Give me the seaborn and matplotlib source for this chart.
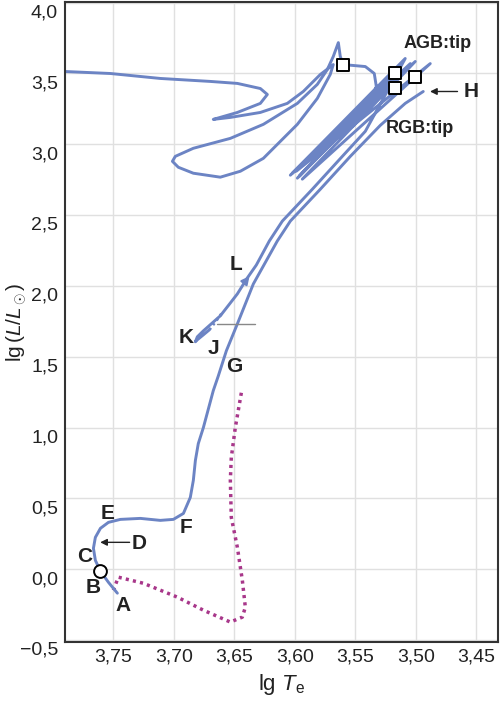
import numpy as np
import pandas as pd
import seaborn as sns
import matplotlib
matplotlib.use("Agg")
import matplotlib.pyplot as plt
from matplotlib.ticker import FuncFormatter, MultipleLocator
from matplotlib.transforms import ScaledTranslation

# main sequence -> subgiant -> red giant branch (A ... RGB tip)
lgTe_rgb = [3.7467, 3.7541, 3.7607, 3.7649, 3.7665, 3.7649, 3.7607, 3.7541, 3.7442, 3.7277,
            3.7112, 3.7004, 3.6921, 3.6864, 3.6839, 3.6822, 3.6798, 3.6756, 3.6674, 3.6632,
            3.6566, 3.6475, 3.6343, 3.6145, 3.6037, 3.5789, 3.5541, 3.5293, 3.5087, 3.4938]
lgL_rgb = [-0.169, -0.092, -0.014, 0.063, 0.148, 0.225, 0.289, 0.331, 0.352, 0.359,
           0.345, 0.352, 0.394, 0.507, 0.627, 0.768, 0.887, 1.000, 1.261, 1.366,
           1.542, 1.732, 2.014, 2.317, 2.458, 2.683, 2.915, 3.134, 3.289, 3.373]

# end of helium flash (dotted) before the horizontal branch
lgTe_flash = [3.6607, 3.6707]
lgL_flash = [1.803, 1.690]

# horizontal branch (K) -> early AGB (L) -> thermal pulses -> AGB tip
lgTe_agb = [3.6707, 3.6756, 3.6806, 3.6822, 3.6806, 3.6756, 3.6682, 3.6616, 3.6533, 3.6475,
            3.6393, 3.6318, 3.6211, 3.6103, 3.5855, 3.5607, 3.5417,
            3.5087, 3.6021, 3.5045, 3.5979, 3.5128, 3.6037, 3.5004, 3.5938, 3.4880,
            3.5988, 3.5169, 3.5963, 3.5376, 3.5326, 3.5343, 3.5417, 3.5599]
lgL_agb = [1.690, 1.655, 1.620, 1.606, 1.641, 1.683, 1.739, 1.789, 1.880, 1.944,
           2.056, 2.148, 2.317, 2.458, 2.683, 2.915, 3.092,
           3.606, 2.796, 3.570, 2.761, 3.542, 2.782, 3.585, 2.754, 3.570,
           2.810, 3.458, 2.775, 3.303, 3.408, 3.500, 3.549, 3.563]

# post-AGB loops leaving the plot to the left
lgTe_post = [3.5599, 3.5624, 3.5640, 3.5682, 3.5731, 3.5814, 3.5979, 3.6260, 3.6533, 3.6839,
             3.6988, 3.7012, 3.6963, 3.6839, 3.6616, 3.6450, 3.6260, 3.5979, 3.5814, 3.5707,
             3.5682, 3.5789, 3.5930, 3.6062, 3.6285, 3.6533, 3.6674, 3.6475, 3.6285, 3.6227,
             3.6285, 3.6475, 3.6698, 3.7112, 3.7525, 3.7897, 3.7980]
lgL_post = [3.563, 3.620, 3.718, 3.620, 3.528, 3.423, 3.289, 3.141, 3.042, 2.972,
            2.915, 2.880, 2.838, 2.796, 2.768, 2.810, 2.901, 3.141, 3.324, 3.493,
            3.563, 3.493, 3.373, 3.289, 3.225, 3.190, 3.176, 3.225, 3.289, 3.352,
            3.394, 3.430, 3.444, 3.465, 3.500, 3.514, 3.514]

# pre-main-sequence (dotted magenta)
lgTe_pms = [3.6442, 3.6492, 3.6525, 3.6533, 3.6525, 3.6475, 3.6434, 3.6409, 3.6434, 3.6533,
            3.6756, 3.6971, 3.7252, 3.7459, 3.7500]
lgL_pms = [1.246, 1.000, 0.789, 0.627, 0.366, 0.155, -0.077, -0.268, -0.338, -0.373,
           -0.289, -0.197, -0.099, -0.056, -0.148]

# markers
sq_Te = [3.5599, 3.5169, 3.5169, 3.5004]
sq_L = [3.563, 3.507, 3.401, 3.472]
zams_Te = [3.7607]
zams_L = [-0.014]

# point labels
lab_text = ["A", "B", "C", "D", "E", "F", "G", "J", "K", "L", "H", "AGB:tip", "RGB:tip"]
lab_Te = [3.7417, 3.7665, 3.7740, 3.7285, 3.7550, 3.6897, 3.6500, 3.6674, 3.6897, 3.6483,
          3.4541, 3.4822, 3.4963]
lab_L = [-0.254, -0.127, 0.092, 0.183, 0.394, 0.296, 1.430, 1.556, 1.634, 2.155,
         3.373, 3.711, 3.113]

blue = "#6c84c4"
magenta = "#a8378a"

sns.set_theme(style="whitegrid")
plt.rcParams["font.family"] = ["Liberation Sans", "DejaVu Sans"]
plt.rcParams["mathtext.fontset"] = "custom"
plt.rcParams["mathtext.rm"] = "Liberation Sans"
plt.rcParams["mathtext.it"] = "Liberation Sans:italic"

fig = plt.figure(figsize=(5.0, 7.04), dpi=100)
ax = fig.add_axes([0.13, 0.088, 0.866, 0.909])

line_kw = dict(sort=False, estimator=None, solid_joinstyle="round", solid_capstyle="round")
sns.lineplot(x=lgTe_pms, y=lgL_pms, ax=ax, color=magenta, lw=2.5,
             linestyle=(0, (0.9, 1.2)), sort=False, estimator=None)
sns.lineplot(x=lgTe_rgb, y=lgL_rgb, ax=ax, color=blue, lw=2.1, **line_kw)
sns.lineplot(x=lgTe_agb, y=lgL_agb, ax=ax, color=blue, lw=2.1, **line_kw)
sns.lineplot(x=lgTe_post, y=lgL_post, ax=ax, color=blue, lw=2.1, **line_kw)
sns.lineplot(x=lgTe_flash, y=lgL_flash, ax=ax, color=blue, lw=2.1,
             linestyle=(0, (0.8, 1.2)), sort=False, estimator=None)

# thin grey marker near J
ax.plot([3.664, 3.6326], [1.732, 1.732], color="#888888", lw=1.0)

sns.scatterplot(x=sq_Te, y=sq_L, ax=ax, marker="s", s=70, color="white",
                edgecolor="black", linewidth=1.4, zorder=5)
sns.scatterplot(x=zams_Te, y=zams_L, ax=ax, marker="o", s=85, color="white",
                edgecolor="black", linewidth=1.4, zorder=5)

for t, xx, yy in zip(lab_text, lab_Te, lab_L):
    fs = 13 if ":" in t else 15
    ax.text(xx, yy, t, ha="center", va="center", fontsize=fs, fontweight="bold",
            color="#222222", zorder=6)

# arrows to D and H
ax.annotate("", xy=(3.7632, 0.19), xytext=(3.7343, 0.19),
            arrowprops=dict(arrowstyle="-|>", color="#222222", lw=1.0, mutation_scale=10))
ax.annotate("", xy=(3.4905, 3.373), xytext=(3.4632, 3.373),
            arrowprops=dict(arrowstyle="-|>", color="#222222", lw=1.0, mutation_scale=10))
# direction arrow at L
ax.annotate("", xy=(3.6360, 2.085), xytext=(3.6420, 2.02),
            arrowprops=dict(arrowstyle="-|>", color=blue, lw=1.5, mutation_scale=12))

ax.set_xlim(3.79, 3.432)
ax.set_ylim(-0.514, 4.004)
ax.xaxis.set_major_locator(MultipleLocator(0.05))
ax.yaxis.set_major_locator(MultipleLocator(0.5))
ax.xaxis.set_major_formatter(FuncFormatter(lambda v, p: f"{v:.2f}".replace(".", ",")))
ax.yaxis.set_major_formatter(FuncFormatter(
    lambda v, p: f"{v:.1f}".replace(".", ",").replace("-", "\u2212")))
ax.tick_params(length=0, labelsize=14, colors="#222222", pad=5)
ax.grid(True, color="#e0e0e0", lw=1.0)
for s in ax.spines.values():
    s.set_color("#333333")
    s.set_linewidth(1.5)

# y tick labels sit a little below their grid lines, as in the original
shift = ScaledTranslation(0, -6 / 72, fig.dpi_scale_trans)
for lab in ax.get_yticklabels():
    lab.set_transform(lab.get_transform() + shift)

ax.set_xlabel(r"lg $T_\mathrm{e}$", fontsize=16, color="#222222", labelpad=4)
ax.set_ylabel(r"lg$\,(L/L_\odot)$", fontsize=15, color="#222222")
ax.yaxis.set_label_coords(-0.082, 0.5)

fig.savefig("out.png", dpi=100, facecolor="white")
